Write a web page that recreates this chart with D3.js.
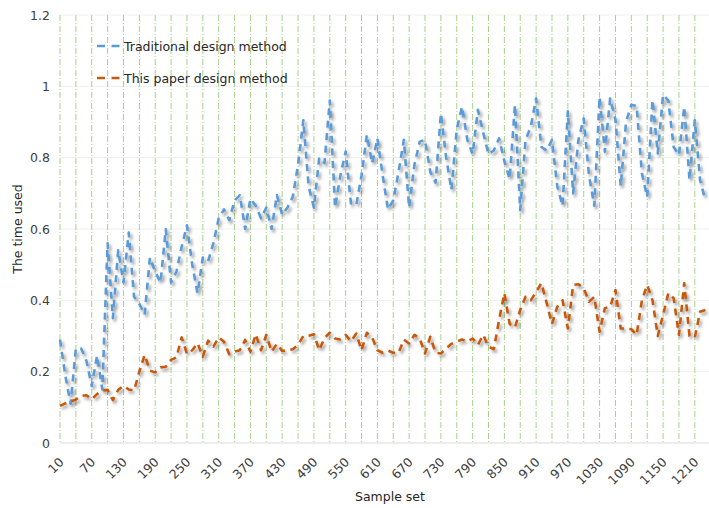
<!DOCTYPE html>
<html>
<head>
<meta charset="utf-8">
<script src="https://cdn.jsdelivr.net/npm/d3@7/dist/d3.min.js"></script>
<style>
  html, body { margin: 0; padding: 0; background: #fff; }
  svg { display: block; font-family: "DejaVu Sans", Verdana, sans-serif; }
</style>
</head>
<body>
<svg id="chart" width="709" height="508"></svg>
<script>
// Sample sets 10, 20, ..., 1230
const samples = d3.range(10, 1231, 10);

// Time used by the traditional design method
const traditional = [
  0.29, 0.19, 0.11, 0.265, 0.265, 0.23, 0.16, 0.245, 0.15, 0.56,
  0.35, 0.54, 0.45, 0.59, 0.41, 0.39, 0.36, 0.52, 0.48, 0.45,
  0.60, 0.45, 0.48, 0.55, 0.61, 0.50, 0.42, 0.52, 0.51, 0.56,
  0.63, 0.655, 0.625, 0.68, 0.695, 0.60, 0.685, 0.665, 0.63, 0.66,
  0.60, 0.695, 0.64, 0.66, 0.69, 0.78, 0.905, 0.72, 0.66, 0.80,
  0.785, 0.96, 0.66, 0.75, 0.817, 0.672, 0.667, 0.75, 0.864, 0.784,
  0.854, 0.75, 0.655, 0.68, 0.76, 0.85, 0.66, 0.78, 0.845, 0.85,
  0.76, 0.73, 0.924, 0.80, 0.71, 0.88, 0.943, 0.85, 0.81, 0.934,
  0.87, 0.81, 0.82, 0.854, 0.79, 0.74, 0.948, 0.653, 0.85, 0.887,
  0.966, 0.83, 0.82, 0.85, 0.72, 0.665, 0.93, 0.70, 0.85, 0.91,
  0.75, 0.665, 0.97, 0.817, 0.966, 0.906, 0.72, 0.90, 0.948, 0.945,
  0.756, 0.69, 0.962, 0.812, 0.976, 0.96, 0.83, 0.807, 0.943, 0.737,
  0.905, 0.737, 0.68
];

// Time used by this paper's design method
const proposed = [
  0.104, 0.111, 0.116, 0.122, 0.132, 0.134, 0.123, 0.137, 0.147, 0.149,
  0.120, 0.149, 0.160, 0.150, 0.147, 0.200, 0.247, 0.203, 0.198, 0.212,
  0.214, 0.233, 0.240, 0.296, 0.250, 0.260, 0.280, 0.242, 0.287, 0.270,
  0.296, 0.284, 0.249, 0.256, 0.260, 0.289, 0.256, 0.305, 0.260, 0.303,
  0.256, 0.278, 0.258, 0.260, 0.263, 0.275, 0.300, 0.301, 0.305, 0.260,
  0.295, 0.309, 0.293, 0.290, 0.303, 0.285, 0.307, 0.260, 0.309, 0.296,
  0.260, 0.253, 0.259, 0.253, 0.253, 0.290, 0.279, 0.303, 0.293, 0.251,
  0.298, 0.253, 0.251, 0.265, 0.278, 0.284, 0.290, 0.284, 0.293, 0.275,
  0.303, 0.270, 0.263, 0.345, 0.420, 0.334, 0.324, 0.373, 0.410, 0.400,
  0.424, 0.448, 0.392, 0.334, 0.382, 0.400, 0.321, 0.443, 0.445, 0.434,
  0.396, 0.410, 0.312, 0.378, 0.382, 0.429, 0.321, 0.321, 0.319, 0.303,
  0.400, 0.443, 0.400, 0.300, 0.359, 0.420, 0.406, 0.303, 0.448, 0.300,
  0.296, 0.368, 0.373
];

// Axis labels and grid positions
const xTickLabels = d3.range(10, 1211, 60);
const xGridValues = d3.range(10, 1211, 30);
const yTickValues = [0, 0.2, 0.4, 0.6, 0.8, 1, 1.2];

const seriesNames = ["Traditional design method", "This paper design method"];
const seriesColors = ["#5b9bd5", "#c55a11"];

const svg = d3.select("#chart");
const plotLeft = 60, plotRight = 705.4, plotTop = 15, plotBottom = 443;

const x = d3.scalePoint().domain(samples).range([plotLeft, plotRight]);
const y = d3.scaleLinear().domain([0, 1.2]).range([plotBottom, plotTop]);

// Soft drop shadow under the data lines
const defs = svg.append("defs");
const shadow = defs.append("filter").attr("id", "lineShadow")
  .attr("x", "-10%").attr("y", "-10%").attr("width", "120%").attr("height", "120%");
shadow.append("feDropShadow")
  .attr("dx", 2).attr("dy", 2.5).attr("stdDeviation", 1.4)
  .attr("flood-color", "#000").attr("flood-opacity", 0.4);

// Horizontal gridlines
svg.append("g").selectAll("line").data(yTickValues).join("line")
  .attr("x1", plotLeft).attr("x2", 709)
  .attr("y1", d => y(d)).attr("y2", d => y(d))
  .attr("stroke", d => d === 0 ? "#d9d9d9" : "#efefef")
  .attr("stroke-width", 1);

// Vertical dash-dot gridlines
svg.append("g").selectAll("line").data(xGridValues).join("line")
  .attr("x1", d => x(d)).attr("x2", d => x(d))
  .attr("y1", y(1.2)).attr("y2", y(0))
  .attr("stroke", "#a9d18e")
  .attr("stroke-width", 1)
  .attr("stroke-dasharray", "6,2,1,2");

// Y axis
const yAxis = svg.append("g")
  .attr("transform", `translate(${plotLeft},0)`)
  .call(d3.axisLeft(y).tickValues(yTickValues)
    .tickFormat(d => String(+d.toFixed(1))).tickSize(0).tickPadding(10));
yAxis.select(".domain").remove();
yAxis.selectAll("text")
  .attr("font-size", 12.5).attr("fill", "#404040")
  .attr("font-family", "DejaVu Sans, Verdana, sans-serif");

// X axis with rotated labels
const xAxis = svg.append("g")
  .attr("transform", `translate(0,${plotBottom})`)
  .call(d3.axisBottom(x).tickValues(xTickLabels).tickSize(0));
xAxis.select(".domain").remove();
xAxis.selectAll("text")
  .attr("font-size", 12.5).attr("fill", "#404040")
  .attr("font-family", "DejaVu Sans, Verdana, sans-serif")
  .attr("text-anchor", "end")
  .attr("dy", null).attr("y", 0)
  .attr("transform", "translate(4,20) rotate(-45)");

// Axis titles
svg.append("text")
  .attr("x", 390).attr("y", 501)
  .attr("text-anchor", "middle")
  .attr("font-size", 12.5).attr("fill", "#262626")
  .text("Sample set");
svg.append("text")
  .attr("transform", "translate(22,229) rotate(-90)")
  .attr("text-anchor", "middle")
  .attr("font-size", 12.5).attr("fill", "#262626")
  .text("The time used");

// Data lines
const line = d3.line()
  .x((d, i) => x(samples[i]))
  .y(d => y(d));

[traditional, proposed].forEach((values, k) => {
  svg.append("path")
    .datum(values)
    .attr("d", line)
    .attr("fill", "none")
    .attr("stroke", seriesColors[k])
    .attr("stroke-width", 2.6)
    .attr("stroke-dasharray", "7,5.5")
    .attr("stroke-linejoin", "round")
    .attr("filter", "url(#lineShadow)");
});

// Legend
const legend = svg.append("g");
seriesNames.forEach((name, k) => {
  const ly = 46 + k * 32;
  legend.append("line")
    .attr("x1", 97).attr("x2", 121).attr("y1", ly).attr("y2", ly)
    .attr("stroke", seriesColors[k]).attr("stroke-width", 2.5)
    .attr("stroke-dasharray", "8,6.5");
  legend.append("text")
    .attr("x", 124).attr("y", ly)
    .attr("dominant-baseline", "central")
    .attr("font-size", 12.5).attr("fill", "#262626")
    .text(name);
});
</script>
</body>
</html>
